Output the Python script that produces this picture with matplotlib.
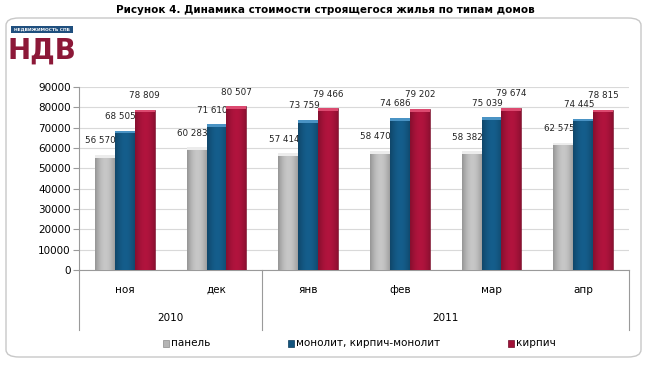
import numpy as np
from matplotlib import pyplot as plt
from matplotlib.patches import FancyBboxPatch, Rectangle
from matplotlib.colors import to_rgb

# data
months = ["ноя", "дек", "янв", "фев", "мар", "апр"]
years = ["2010", "2011"]
year_sizes = [2, 4]
series_names = ["панель", "монолит, кирпич-монолит", "кирпич"]
panel = [56570, 60283, 57414, 58470, 58382, 62575]
monolit = [68505, 71610, 73759, 74686, 75039, 74445]
brick = [78809, 80507, 79466, 79202, 79674, 78815]

colors = ["#b5b5b5", "#13557f", "#a11238"]
tops = ["#ececec", "#4a93c4", "#dc4a70"]
edges = ["#8a8a8a", "#0b3a5a", "#6e0b26"]

fig = plt.figure(figsize=(6.5, 3.65), dpi=100)
font = "DejaVu Sans"

# title
fig.text(0.5, 1 - 10/365, "Рисунок 4. Динамика стоимости строящегося жилья по типам домов",
         ha="center", va="center", fontsize=7.5, fontweight="bold", family=font)

# rounded frame
frame = FancyBboxPatch((6/650, 1 - 357/365), 635/650, 339/365,
                       boxstyle="round,pad=0,rounding_size=0.02",
                       transform=fig.transFigure, facecolor="none",
                       edgecolor="#c8c8c8", linewidth=1.0, zorder=-1)
fig.patches.append(frame)

# logo
fig.patches.append(Rectangle((11/650, 1 - 33/365), 62/650, 7/365, transform=fig.transFigure,
                             facecolor="#1f4f7e", edgecolor="none"))
fig.text(42/650, 1 - 29.5/365, "НЕДВИЖИМОСТЬ СПБ", ha="center", va="center",
         fontsize=3.2, color="white", fontweight="bold", family=font)
fig.text(42/650, 1 - 51/365, "НДВ", ha="center", va="center", fontsize=20,
         color="#8c1838", fontweight="bold", family=font)

ax = fig.add_axes([79/650, 1 - 270/365, 550/650, 183/365])

x = np.arange(len(months))
w = 0.218
# horizontal shading profile for a cylinder-like bar
prof = np.linspace(0, 1, 40)
shade = 0.78 + 0.32 * np.sin(np.pi * (prof * 0.85 + 0.05))

all_series = [panel, monolit, brick]
for i, vals in enumerate(all_series):
    pos = x + (i - 1) * w
    bars = ax.bar(pos, vals, width=w, color=colors[i], edgecolor=edges[i], linewidth=0.4,
                  zorder=3, label=series_names[i])
    base = np.array(to_rgb(colors[i]))
    grad = np.clip(base[None, :] * shade[:, None], 0, 1)[None, :, :]
    for b in bars:
        im = ax.imshow(grad, extent=[b.get_x(), b.get_x() + b.get_width(), 0, b.get_height()],
                       aspect="auto", zorder=3.5, interpolation="bilinear")
        im.set_clip_path(b)
    # light cap on top of each bar
    ax.bar(pos, [1300] * len(vals), bottom=np.array(vals) - 1300, width=w,
           color=tops[i], edgecolor="none", zorder=4)
    for p, v in zip(pos, vals):
        s = "{:,}".format(v).replace(",", " ")
        ax.annotate(s, (p, v), xytext=(-3 if i < 2 else 0, 7), textcoords="offset points",
                    ha="center", va="bottom", fontsize=6.3, family=font, color="#222222")

ax.set_xlim(-0.5, len(months) - 0.5)
ax.set_ylim(0, 90000)
ax.set_yticks(np.arange(0, 90001, 10000))
ax.set_yticklabels([str(t) for t in range(0, 90001, 10000)], fontsize=7.5, family=font)
ax.yaxis.grid(True, color="#d9d9d9", linewidth=0.8, zorder=0)
ax.set_axisbelow(True)
for sp in ["top", "right"]:
    ax.spines[sp].set_visible(False)
ax.spines["left"].set_color("#9a9a9a")
ax.spines["bottom"].set_color("#9a9a9a")
ax.tick_params(axis="y", length=4, color="#9a9a9a", pad=2)
ax.set_xticks([])

# two level category axis
trans = ax.get_xaxis_transform()
for i, m in enumerate(months):
    ax.text(x[i], -0.11, m, transform=trans, ha="center", va="center", fontsize=7.5, family=font)
start = 0
bounds = [-0.5]
for yname, n in zip(years, year_sizes):
    ax.text(start + (n - 1) / 2, -0.26, yname, transform=trans, ha="center", va="center",
            fontsize=7.5, family=font)
    start += n
    bounds.append(start - 0.5)
for b in bounds:
    ax.plot([b, b], [0, -0.33], transform=trans, color="#9a9a9a", linewidth=0.8, clip_on=False)

# legend
lx = [163, 288, 508]
for i in range(3):
    fig.patches.append(Rectangle((lx[i]/650, 1 - 346.5/365), 6/650, 7/365, transform=fig.transFigure,
                                 facecolor=colors[i], edgecolor=edges[i], linewidth=0.5))
    fig.text((lx[i] + 8)/650, 1 - 343/365, series_names[i], ha="left", va="center",
             fontsize=7.5, family=font)

fig.savefig("out.png", dpi=100)
